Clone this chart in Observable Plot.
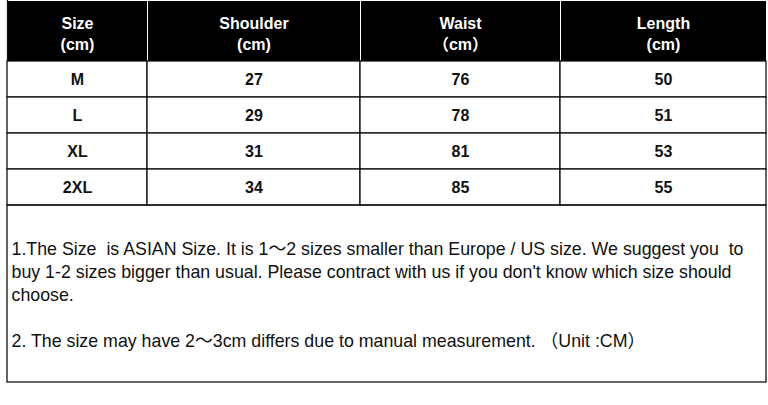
<!DOCTYPE html>
<html>
<head>
<meta charset="utf-8">
<script src="https://cdn.jsdelivr.net/npm/d3@7"></script>
<script src="https://cdn.jsdelivr.net/npm/@observablehq/plot@0.6"></script>
<style>
  html, body { margin: 0; padding: 0; background: #fff; }
  #chart svg text { white-space: pre; }
</style>
</head>
<body>
<div id="chart"></div>
<script>
// ---- data ----
const headers = ["Size\n(cm)", "Shoulder\n(cm)", "Waist\n（cm）", "Length\n(cm)"];
const sizes = ["M", "L", "XL", "2XL"];
const shoulder = [27, 29, 31, 34];
const waist = [76, 78, 81, 85];
const lengths = [50, 51, 53, 55];
const notes = [
  "1.The Size  is ASIAN Size. It is 1～2 sizes smaller than Europe / US size. We suggest you  to",
  "buy 1-2 sizes bigger than usual. Please contract with us if you don't know which size should",
  "choose.",
  "",
  "2. The size may have 2～3cm differs due to manual measurement. （Unit :CM）"
];

// ---- layout (table geometry in scale units) ----
const colEdges = [7, 147, 360, 560, 766];
const rowEdges = [1, 61, 97, 133, 169, 205];
const notesBottom = 382;
const notesX = 11, notesY = 238;
const font = "'Liberation Sans', Arial, 'Noto Sans CJK SC', sans-serif";

const columns = [sizes, shoulder, waist, lengths];
const headerCells = headers.map((h, i) => ({col: i, text: h}));
const bodyCells = [];
sizes.forEach((s, r) => columns.forEach((c, i) => bodyCells.push({col: i, row: r, text: String(c[r])})));

const cx = d => (colEdges[d.col] + colEdges[d.col + 1]) / 2;
const ry = d => (rowEdges[d.row + 1] + rowEdges[d.row + 2]) / 2;

const plot = Plot.plot({
  width: 768,
  height: 405,
  margin: 0,
  x: {type: "linear", domain: [0, 768], range: [0, 768], axis: null},
  y: {type: "linear", domain: [0, 405], range: [0, 405], axis: null},
  style: {background: "#fff", fontFamily: font},
  marks: [
    // header cells
    Plot.rect(headerCells, {
      x1: d => colEdges[d.col], x2: d => colEdges[d.col + 1],
      y1: rowEdges[0], y2: rowEdges[1],
      fill: "#000", inset: 0
    }),
    Plot.ruleX(colEdges.slice(1, -1), {y1: rowEdges[0], y2: rowEdges[1], stroke: "#fff", strokeWidth: 1}),
    // body cells
    Plot.rect(bodyCells, {
      x1: d => colEdges[d.col], x2: d => colEdges[d.col + 1],
      y1: d => rowEdges[d.row + 1], y2: d => rowEdges[d.row + 2],
      fill: "#fff", stroke: "#111", strokeWidth: 1.3, inset: 0
    }),
    // notes box
    Plot.rect([0], {
      x1: colEdges[0], x2: colEdges[colEdges.length - 1],
      y1: rowEdges[rowEdges.length - 1], y2: notesBottom,
      fill: "none", stroke: "#111", strokeWidth: 1.3, inset: 0
    }),
    // left border of the table (header side)
    Plot.ruleX([colEdges[0]], {y1: 0, y2: rowEdges[1], stroke: "#111", strokeWidth: 1.3}),
    // header text
    Plot.text(headerCells, {
      x: cx, y: (rowEdges[0] + rowEdges[1]) / 2 + 1, text: "text",
      fill: "#fff", fontWeight: "bold", fontSize: 16, lineHeight: 1.32,
      lineAnchor: "middle", textAnchor: "middle", fontFamily: font
    }),
    // body text
    Plot.text(bodyCells, {
      x: cx, y: ry, text: "text",
      fill: "#111", fontWeight: "bold", fontSize: 16,
      lineAnchor: "middle", textAnchor: "middle", fontFamily: font
    }),
    // notes text
    Plot.text([notes.join("\n")], {
      x: notesX, y: notesY, text: d => d,
      fill: "#111", fontSize: 17.8, lineHeight: 1.3,
      lineAnchor: "top", textAnchor: "start", fontFamily: font
    })
  ]
});
document.getElementById("chart").appendChild(plot);
</script>
</body>
</html>
